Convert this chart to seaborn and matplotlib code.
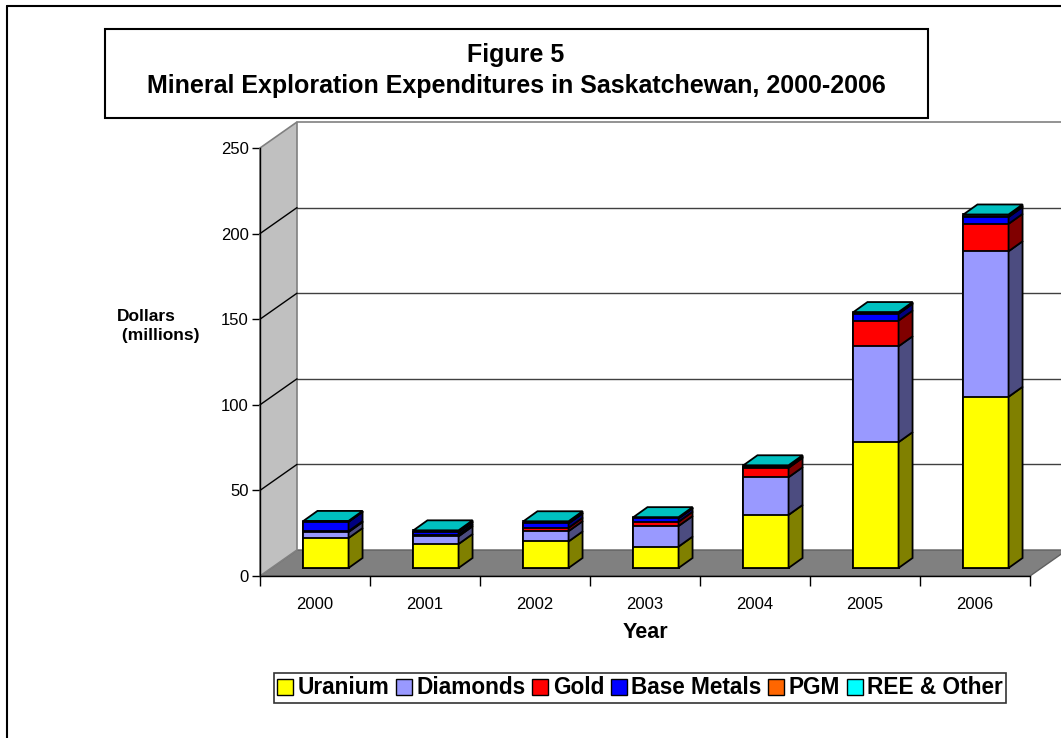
import numpy as np
import matplotlib
matplotlib.use("Agg")
import matplotlib.pyplot as plt
import matplotlib.transforms as mtransforms
from matplotlib.patches import Polygon, Rectangle, Patch
from matplotlib.lines import Line2D
import seaborn as sns

# %% Data (millions of dollars)
years = ["2000", "2001", "2002", "2003", "2004", "2005", "2006"]
uranium = [17.5, 14.0, 15.5, 12.5, 31.0, 73.5, 100.0]
diamonds = [3.5, 4.5, 6.0, 12.0, 22.0, 56.0, 85.0]
gold = [0.5, 1.0, 2.0, 2.5, 5.5, 15.0, 16.0]
base_metals = [5.5, 1.5, 2.5, 2.0, 0.5, 4.0, 4.0]
pgm = [0.1, 0.2, 0.3, 0.2, 0.2, 0.3, 0.5]
ree_other = [0.4, 0.8, 1.0, 0.5, 0.8, 0.7, 1.0]

names = ["Uranium", "Diamonds", "Gold", "Base Metals", "PGM", "REE & Other"]
front = ["#FFFF00", "#9999FF", "#FF0000", "#0000FF", "#FF6600", "#00FFFF"]
side = ["#808000", "#4C4C80", "#800000", "#000080", "#803300", "#008080"]
top_col = "#00C0C0"

layers = np.array([uranium, diamonds, gold, base_metals, pgm, ree_other])
cum = np.cumsum(layers, axis=0)

# %% Figure
sns.set_style("white")
plt.rcParams['font.family'] = ['Liberation Sans', 'DejaVu Sans']
plt.rcParams.update({"text.color": "black", "xtick.color": "black",
                     "ytick.color": "black", "axes.labelcolor": "black",
                     "axes.edgecolor": "black"})

W, H = 1061, 738
fig = plt.figure(figsize=(W / 100, H / 100), dpi=100)
ax = fig.add_axes([260 / W, (H - 576) / H, 770 / W, 428 / H])
ax.set_facecolor("none")

# stacked bars: draw cumulative totals from top layer down
bar_w = 0.41
bars = {}
for i in range(len(names) - 1, -1, -1):
    n0 = len(ax.patches)
    sns.barplot(x=years, y=cum[i], color=front[i], saturation=1, width=bar_w,
                edgecolor="black", linewidth=1.3, ax=ax, zorder=3)
    bars[i] = ax.patches[n0:]

ax.set_xlim(-0.5, 6.5)
ax.set_ylim(0, 250)

# pixel -> data scales
px_x = 770 / 7
px_y = 428 / 250
DX, DY = 37 / px_x, 26 / px_y          # wall depth
bdx, bdy = 14 / px_x, 10 / px_y        # bar depth
shift = mtransforms.ScaledTranslation(11 / 100, 8 / 100, fig.dpi_scale_trans)
btr = ax.transData + shift

# floor and left wall
ax.add_patch(Polygon([(-0.5, 0), (6.5, 0), (6.5 + DX, DY), (-0.5 + DX, DY)],
                     closed=True, fc="#808080", ec="#606060", lw=1, clip_on=False, zorder=1))
ax.add_patch(Polygon([(-0.5, 0), (-0.5 + DX, DY), (-0.5 + DX, 250 + DY), (-0.5, 250)],
                     closed=True, fc="#C0C0C0", ec="#808080", lw=1.2, clip_on=False, zorder=1))
for v in [50, 100, 150, 200]:
    ax.add_line(Line2D([-0.5 + DX, 6.5 + DX + 1], [v + DY, v + DY], color="#404040",
                       lw=1, clip_on=False, zorder=1))
    ax.add_line(Line2D([-0.5, -0.5 + DX], [v, v + DY], color="black", lw=1,
                       clip_on=False, zorder=1))
ax.add_line(Line2D([-0.5 + DX, 6.5 + DX + 1], [250 + DY, 250 + DY], color="#808080",
                   lw=1.2, clip_on=False, zorder=1))

# 3D faces on bars
for i in range(len(names)):
    for j, p in enumerate(bars[i]):
        p.set_transform(btr)
        x1 = p.get_x() + p.get_width()
        y0 = cum[i - 1][j] if i > 0 else 0
        y1 = cum[i][j]
        ax.add_patch(Polygon([(x1, y0), (x1 + bdx, y0 + bdy), (x1 + bdx, y1 + bdy), (x1, y1)],
                             closed=True, fc=side[i], ec="black", lw=1.3,
                             transform=btr, clip_on=False, zorder=3))
top = len(names) - 1
for j, p in enumerate(bars[top]):
    x0 = p.get_x()
    x1 = x0 + p.get_width()
    t = cum[top][j]
    ax.add_patch(Polygon([(x0, t), (x0 + bdx, t + bdy), (x1 + bdx, t + bdy), (x1, t)],
                         closed=True, fc=top_col, ec="black", lw=1.3,
                         transform=btr, clip_on=False, zorder=4))

# axes styling
for s in ["top", "right"]:
    ax.spines[s].set_visible(False)
for s in ["left", "bottom"]:
    ax.spines[s].set_linewidth(1)
    ax.spines[s].set_zorder(5)
ax.set_yticks([0, 50, 100, 150, 200, 250])
ax.tick_params(axis="y", direction="out", length=6, width=1, labelsize=12, pad=2, left=True)
ax.set_xticks(range(7))
ax.set_xticklabels(years)
ax.set_xticks(np.arange(-0.5, 7, 1), minor=True)
ax.tick_params(axis="x", which="major", length=0, labelsize=12, pad=15)
ax.tick_params(axis="x", which="minor", direction="out", length=7, width=1, bottom=True)
ax.set_xlabel("")
ax.set_ylabel("")
ax.grid(False)

fig.text(645 / W, 1 - 633 / H, "Year", ha="center", va="center", fontsize=15.5, fontweight="bold")
fig.text(117 / W, 1 - 326 / H, "Dollars\n (millions)", ha="left", va="center",
         fontsize=12.5, fontweight="bold", linespacing=1.3)

# title box
fig.patches.append(Rectangle((105 / W, 1 - 118 / H), 823 / W, 89 / H, transform=fig.transFigure,
                             fc="white", ec="black", lw=1.5, zorder=5))
fig.text(516 / W, 1 - 55 / H, "Figure 5", ha="center", va="center",
         fontsize=18, fontweight="bold", zorder=6)
fig.text(516 / W, 1 - 86 / H, "Mineral Exploration Expenditures in Saskatchewan, 2000-2006",
         ha="center", va="center", fontsize=18, fontweight="bold", zorder=6)

# outer border (left and top)
fig.lines.append(Line2D([7 / W, 7 / W], [0, 1 - 6 / H], transform=fig.transFigure, color="black", lw=1.5))
fig.lines.append(Line2D([7 / W, 1], [1 - 6 / H, 1 - 6 / H], transform=fig.transFigure, color="black", lw=1.5))

# legend
handles = [Patch(facecolor=c, edgecolor="black", linewidth=1, label=n) for c, n in zip(front, names)]
leg = fig.legend(handles=handles, loc="center", bbox_to_anchor=(640 / W, 1 - 688 / H), ncol=6,
                 frameon=True, fancybox=False, edgecolor="black", handlelength=0.7,
                 handleheight=0.7, handletextpad=0.2, columnspacing=0.3, borderpad=0.15,
                 borderaxespad=0, prop={"weight": "bold", "size": 16.3})
leg.get_frame().set_linewidth(1.2)

fig.savefig("out.png", dpi=100)
